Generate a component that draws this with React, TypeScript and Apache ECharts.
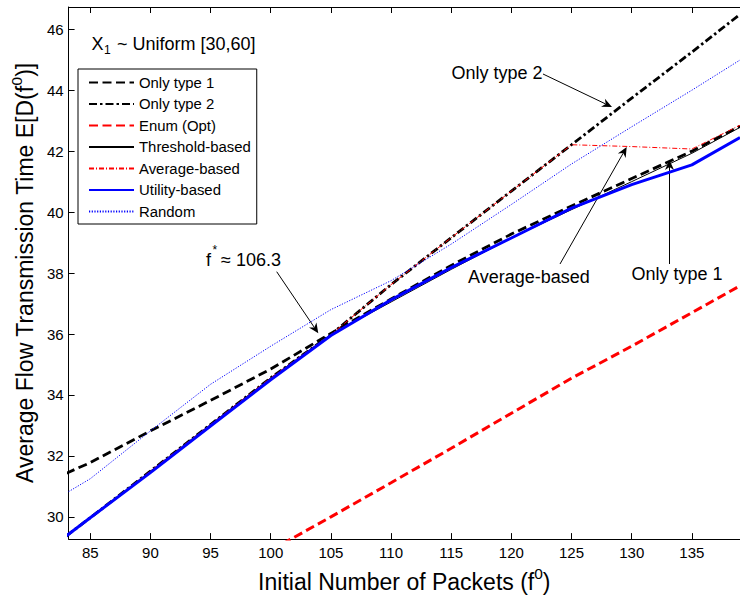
import React, { useEffect, useRef } from "react";
import * as echarts from "echarts";

const FONT = "'Liberation Sans', Arial, Helvetica, sans-serif";

// x positions (initial number of packets) at which values were read
const packets = [83, 85, 90, 95, 100, 105, 110, 115, 120, 125, 130, 135, 139];

const onlyType1 = [31.43, 31.78, 32.82, 33.82, 34.85, 36.02, 37.15, 38.25, 39.28, 40.2, 41.1, 42.0, 42.82];
const onlyType2 = [29.37, 29.97, 31.5, 33.03, 34.56, 35.98, 37.62, 39.16, 40.69, 42.21, 43.74, 45.25, 46.49];
const enumOpt = [null, null, null, null, 28.9, 30.0, 31.12, 32.25, 33.4, 34.55, 35.6, 36.7, 37.58];
const thresholdBased = [29.37, 29.97, 31.5, 33.03, 34.56, 35.98, 37.05, 38.12, 39.15, 40.08, 41.0, 41.93, 42.78];
const averageBased = [29.37, 29.97, 31.5, 33.03, 34.56, 35.98, 37.62, 39.16, 40.69, 42.21, 42.15, 42.07, 42.85];
const utilityBased = [29.37, 29.97, 31.45, 32.98, 34.5, 35.95, 37.12, 38.18, 39.15, 40.13, 40.9, 41.55, 42.45];
const randomPolicy = [30.78, 31.25, 32.82, 34.35, 35.6, 36.8, 37.75, 38.95, 40.25, 41.58, 42.8, 44.0, 44.99];

const xTicks = [85, 90, 95, 100, 105, 110, 115, 120, 125, 130, 135];
const yTicks = [30, 32, 34, 36, 38, 40, 42, 44, 46];

const X_MIN = 83.2;
const X_MAX = 139.0;
const Y_MIN = 29.27;
const Y_MAX = 46.73;

const pairs = (vals: (number | null)[]) =>
  packets.map((x, i) => [x, vals[i] === null ? null : vals[i]]);

function arrow(x1: number, y1: number, x2: number, y2: number, L = 10, W = 9) {
  const dx = x2 - x1;
  const dy = y2 - y1;
  const len = Math.hypot(dx, dy);
  const ux = dx / len;
  const uy = dy / len;
  const nx = -uy;
  const ny = ux;
  const bx = x2 - ux * L;
  const by = y2 - uy * L;
  const kx = x2 - ux * L * 0.7;
  const ky = y2 - uy * L * 0.7;
  return [
    {
      type: "line",
      silent: true,
      shape: { x1, y1, x2: kx, y2: ky },
      style: { stroke: "#000", lineWidth: 1 },
    },
    {
      type: "polygon",
      silent: true,
      shape: {
        points: [
          [x2, y2],
          [bx + (nx * W) / 2, by + (ny * W) / 2],
          [kx, ky],
          [bx - (nx * W) / 2, by - (ny * W) / 2],
        ],
      },
      style: { fill: "#000" },
    },
  ];
}

function txt(x: number, y: number, text: string, size: number) {
  return {
    type: "text",
    silent: true,
    x,
    y,
    style: {
      text,
      fontSize: size,
      fontFamily: FONT,
      fill: "#000",
      align: "left",
      verticalAlign: "middle",
      textAlign: "left",
      textVerticalAlign: "middle",
    },
  };
}

export default function App() {
  const ref = useRef<HTMLDivElement>(null);

  useEffect(() => {
    const chart = echarts.init(ref.current!, null, { renderer: "svg" });

    const mk = (name: string, vals: (number | null)[], color: string, width: number, type: any) => ({
      name,
      type: "line",
      data: pairs(vals),
      symbol: "none",
      showSymbol: false,
      color,
      lineStyle: { color, width, type },
      emphasis: { disabled: true },
      silent: true,
      clip: true,
    });

    const axisCommon = {
      axisLine: { show: true, onZero: false, lineStyle: { color: "#000", width: 1 } },
      splitLine: { show: false },
    };

    const titleRich = {
      a: { fontSize: 23, fontFamily: FONT, color: "#000", lineHeight: 28, verticalAlign: "bottom" },
      s: { fontSize: 15.5, fontFamily: FONT, color: "#000", lineHeight: 15, verticalAlign: "top" },
    };

    const option: any = {
      animation: false,
      backgroundColor: "#fff",
      grid: { left: 68, right: 0, top: 7, bottom: 58 },
      xAxis: [
        {
          type: "value",
          position: "bottom",
          min: X_MIN,
          max: X_MAX,
          ...axisCommon,
          axisTick: { show: true, inside: true, length: 6, customValues: xTicks, lineStyle: { color: "#000" } },
          axisLabel: { customValues: xTicks, color: "#000", fontSize: 15, fontFamily: FONT, margin: 6 },
          name: "{a|Initial Number of Packets (f}{s|0}{a|)}",
          nameLocation: "middle",
          nameGap: 22,
          nameTextStyle: { rich: titleRich },
        },
        {
          type: "value",
          position: "top",
          min: X_MIN,
          max: X_MAX,
          ...axisCommon,
          axisTick: { show: true, inside: true, length: 6, customValues: xTicks, lineStyle: { color: "#000" } },
          axisLabel: { show: false },
        },
      ],
      yAxis: {
        type: "value",
        min: Y_MIN,
        max: Y_MAX,
        ...axisCommon,
        axisTick: { show: true, inside: true, length: 6, customValues: yTicks, lineStyle: { color: "#000" } },
        axisLabel: { customValues: yTicks, color: "#000", fontSize: 15, fontFamily: FONT, margin: 5 },
        name: "{a|Average Flow Transmission Time E[D(f}{s|0}{a|)]}",
        nameLocation: "middle",
        nameGap: 25,
        nameTextStyle: { rich: titleRich },
      },
      legend: {
        left: 78,
        top: 69,
        orient: "vertical",
        selectedMode: false,
        backgroundColor: "#fff",
        borderColor: "#000",
        borderWidth: 1,
        borderRadius: 0,
        padding: [6, 6, 5, 10],
        itemWidth: 45,
        itemHeight: 14,
        itemGap: 6.5,
        itemStyle: { opacity: 0 },
        textStyle: { fontSize: 14.9, fontFamily: FONT, color: "#000" },
        data: [
          "Only type 1",
          "Only type 2",
          "Enum (Opt)",
          "Threshold-based",
          "Average-based",
          "Utility-based",
          "Random",
        ],
      },
      series: [
        mk("Only type 1", onlyType1, "#000000", 2.8, [9, 4.5]),
        mk("Only type 2", onlyType2, "#000000", 2.8, [8, 3, 2.5, 3]),
        mk("Enum (Opt)", enumOpt, "#ff0000", 3, [9, 4.5]),
        mk("Threshold-based", thresholdBased, "#000000", 1, "solid"),
        mk("Average-based", averageBased, "#ff0000", 1, [5, 2, 1, 2]),
        mk("Utility-based", utilityBased, "#0000ff", 3, "solid"),
        mk("Random", randomPolicy, "#0000ff", 1, [1.2, 1.5]),
      ],
      graphic: [
        txt(91.5, 43.5, "X", 18),
        txt(104, 50, "1", 12),
        txt(117, 43.5, "~ Uniform [30,60]", 18),
        txt(206, 260, "f", 18),
        txt(212.5, 250, "*", 12),
        txt(221, 260, "\u2248 106.3", 18),
        txt(451.5, 72.5, "Only type 2", 18),
        txt(468, 277, "Average-based", 18),
        txt(631.5, 273.5, "Only type 1", 18),
        ...arrow(543, 74, 612, 107),
        ...arrow(560, 264, 626.7, 147),
        ...arrow(669.5, 264, 669.5, 160),
        ...arrow(276.7, 271.7, 318.3, 333.3),
      ],
    };

    chart.setOption(option);
    return () => chart.dispose();
  }, []);

  return (
    <div
      ref={ref}
      style={{ position: "fixed", left: 0, top: 0, width: 740, height: 598, background: "#fff" }}
    />
  );
}
